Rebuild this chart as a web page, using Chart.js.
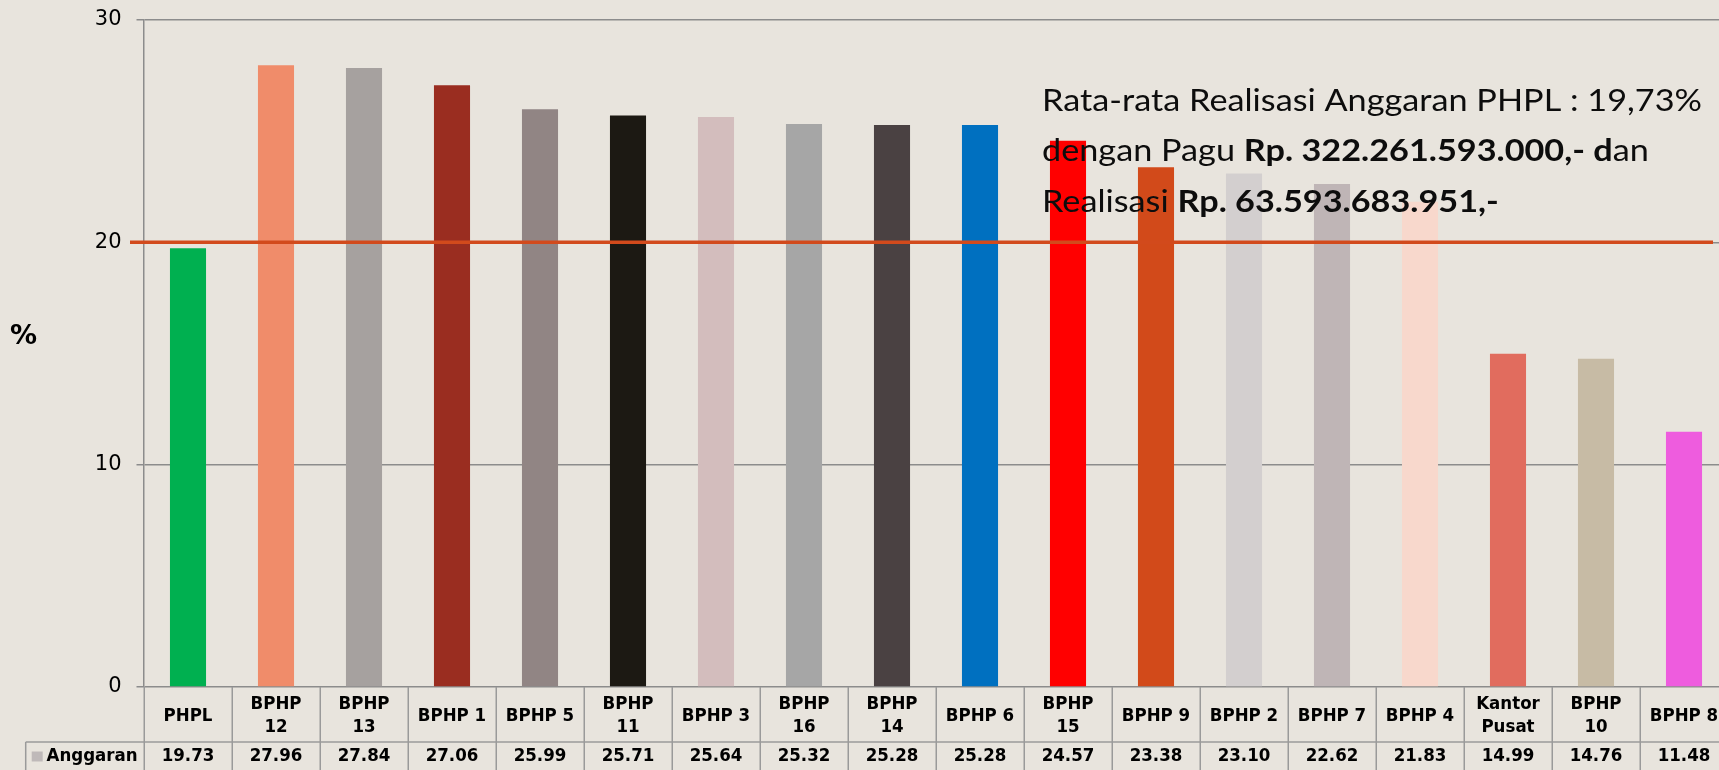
<!DOCTYPE html>
<html><head><meta charset="utf-8">
<script src="https://cdn.jsdelivr.net/npm/chart.js@4.4.1/dist/chart.umd.min.js"></script>
<style>
html,body{margin:0;padding:0;background:#E8E4DD;overflow:hidden;width:1719px;height:770px}
#wrap{position:absolute;left:0;top:0;width:1728px;height:770px}
canvas{display:block}
</style></head><body>
<div id="wrap"><canvas id="c" width="1728" height="770"></canvas></div>
<script>
const categories = ['PHPL','BPHP 12','BPHP 13','BPHP 1','BPHP 5','BPHP 11','BPHP 3','BPHP 16','BPHP 14','BPHP 6','BPHP 15','BPHP 9','BPHP 2','BPHP 7','BPHP 4','Kantor Pusat','BPHP 10','BPHP 8'];
const anggaran = [19.73,27.96,27.84,27.06,25.99,25.71,25.64,25.32,25.28,25.28,24.57,23.38,23.10,22.62,21.83,14.99,14.76,11.48];
const barColors = ['#00B050','#F08C6A','#A6A19F','#9A2D20','#918584','#1C1913','#D3BDBD','#A6A6A6','#4A4142','#0070C0','#FF0000','#D24A1A','#D3CFCF','#BFB5B6','#F8D8CC','#E16C5E','#C7BBA5','#EE5CDE'];
const seriesName = 'Anggaran';
const seriesKeyColor = '#BFB9B9';
const yMin = 0, yMax = 30, yStep = 10;
const axisTitle = '%';
const averageLineValue = 20;
const noteLines = [
  [['Rata-rata Realisasi Anggaran PHPL : 19,73%', false]],
  [['dengan Pagu ', false], ['Rp. 322.261.593.000,- d', true], ['an', false]],
  [['Realisasi ', false], ['Rp. 63.593.683.951,-', true]]
];

const tableFont = "'DejaVu Sans Condensed', 'DejaVu Sans', sans-serif";
const noteFont = "Lato, 'Open Sans', sans-serif";
const gridGray = '#8c8c8c';
const tableGray = '#9a9a9a';

const tablePlugin = {
  id: 'tablePlugin',
  afterDraw(chart) {
    const ctx = chart.ctx;
    const xs = chart.scales.x, ys = chart.scales.y;
    const ca = chart.chartArea;
    const H = chart.height;
    const half = (xs.getPixelForValue(1) - xs.getPixelForValue(0)) / 2;
    const rowY = 742;
    ctx.save();
    // table lines
    ctx.strokeStyle = tableGray;
    ctx.lineWidth = 1.5;
    ctx.beginPath();
    for (let i = 0; i <= categories.length; i++) {
      const x = Math.round((i < categories.length ? xs.getPixelForValue(i) - half : xs.getPixelForValue(i - 1) + half)) + 0.25;
      ctx.moveTo(x, ca.bottom); ctx.lineTo(x, H);
    }
    ctx.moveTo(25.7, rowY); ctx.lineTo(chart.width, rowY);
    ctx.moveTo(25.7, rowY); ctx.lineTo(25.7, H);
    ctx.stroke();
    // legend key + series name
    ctx.fillStyle = seriesKeyColor;
    ctx.fillRect(31.7, 751.5, 11, 10);
    ctx.fillStyle = '#000';
    ctx.font = 'bold 18.5px ' + tableFont;
    ctx.textBaseline = 'middle';
    ctx.textAlign = 'left';
    ctx.fillText(seriesName, 46.5, 756.5);
    ctx.textAlign = 'center';
    anggaran.forEach((v, i) => {
      ctx.fillText(v.toFixed(2), xs.getPixelForValue(i), 756.5);
    });
    // axis title
    ctx.font = 'bold 27px DejaVu Sans, sans-serif';
    ctx.fillText(axisTitle, 23.5, 337);
    // average line
    const ay = ys.getPixelForValue(averageLineValue);
    ctx.strokeStyle = '#D24A1C';
    ctx.lineWidth = 3.5;
    ctx.beginPath();
    ctx.moveTo(130, ay); ctx.lineTo(1713, ay);
    ctx.stroke();
    // note text
    ctx.fillStyle = '#0d0d0d';
    ctx.textAlign = 'left';
    ctx.textBaseline = 'alphabetic';
    const size = 31;
    const fontFor = b => (b ? 'bold ' : '') + size + 'px ' + noteFont;
    const measure = line => line.reduce((w, s) => { ctx.font = fontFor(s[1]); return w + ctx.measureText(s[0]).width; }, 0);
    const sx = 660 / measure(noteLines[0]);
    ctx.translate(1042, 0);
    ctx.scale(sx, 1);
    const baselines = [110.7, 160.7, 211.7];
    noteLines.forEach((line, li) => {
      let x = 0;
      line.forEach(s => {
        ctx.font = fontFor(s[1]);
        ctx.fillText(s[0], x, baselines[li]);
        x += ctx.measureText(s[0]).width;
      });
    });
    ctx.restore();
  }
};

new Chart(document.getElementById('c'), {
  type: 'bar',
  data: {
    labels: categories,
    datasets: [{
      label: seriesName,
      data: anggaran,
      backgroundColor: barColors,
      borderWidth: 0,
      barPercentage: 0.41,
      categoryPercentage: 1.0
    }]
  },
  options: {
    responsive: false,
    animation: false,
    devicePixelRatio: 1,
    layout: { padding: { top: 20, left: 0, right: 0, bottom: 0 } },
    plugins: { legend: { display: false }, tooltip: { enabled: false } },
    scales: {
      x: {
        offset: true,
        grid: { display: false, drawTicks: false },
        border: { display: false },
        ticks: {
          color: '#000',
          autoSkip: false, maxRotation: 0, minRotation: 0,
          crossAlign: 'center',
          padding: 17,
          font: { family: tableFont, size: 18.5, weight: 'bold', lineHeight: 1.28 },
          callback: function (v, i) { const s = categories[i]; return s.length > 6 ? s.split(' ') : s; }
        },
        afterFit: s => { s.height = 83; s.paddingLeft = 0; s.paddingRight = 0; }
      },
      y: {
        min: yMin, max: yMax,
        ticks: { stepSize: yStep, color: '#000', padding: 15, font: { family: "'DejaVu Sans', sans-serif", size: 21 } },
        grid: { color: gridGray, lineWidth: 1.5, tickLength: 7.5, drawTicks: true },
        border: { color: gridGray, width: 1.5 },
        afterFit: s => { s.width = 144; s.paddingTop = 0; s.paddingBottom = 0; }
      }
    }
  },
  plugins: [tablePlugin]
});
</script>
</body></html>
